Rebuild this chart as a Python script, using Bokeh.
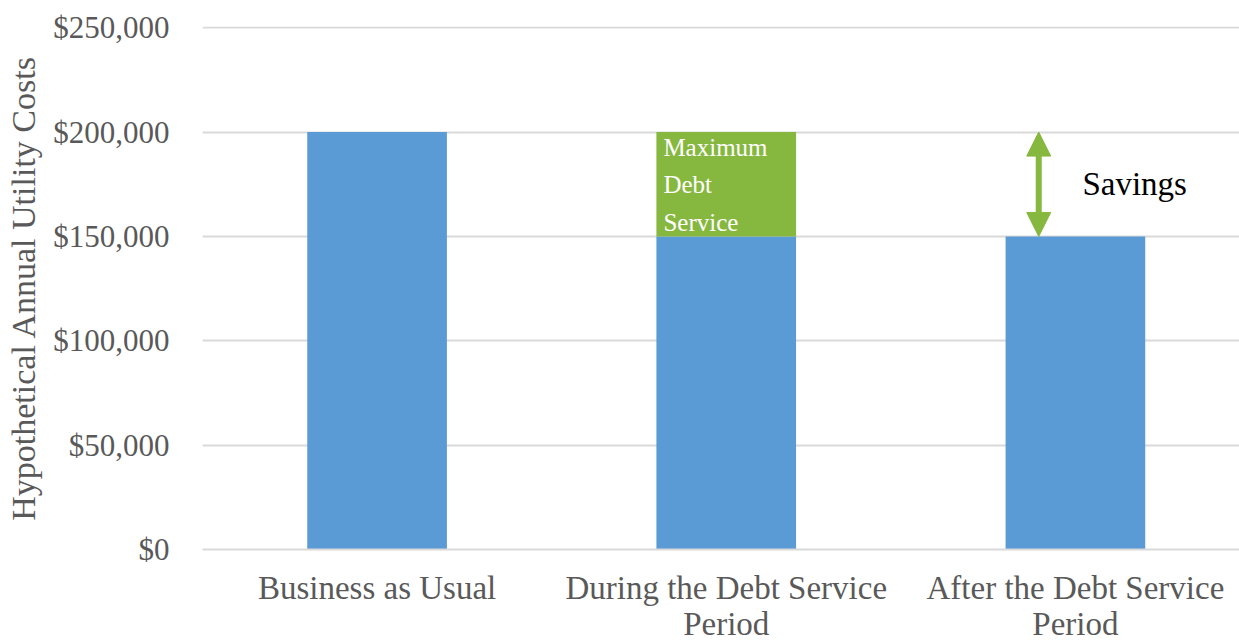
from bokeh.plotting import figure
from bokeh.models import Range1d, FixedTicker, Arrow, NormalHead, ColumnDataSource
from bokeh.embed import file_html
from bokeh.resources import INLINE
from bokeh.core.properties import value

# ---- data ----
categories = ["Business as Usual", "During the Debt Service\nPeriod", "After the Debt Service\nPeriod"]
utility_costs = [200000, 150000, 150000]
debt_service = [0, 50000, 0]
y_ticks = [0, 50000, 100000, 150000, 200000, 250000]
y_tick_labels = ["$0", "$50,000", "$100,000", "$150,000", "$200,000", "$250,000"]
bau_cost = 200000
after_cost = 150000
debt_label = "Maximum\nDebt\nService"
savings_label = "Savings"

FONT = "Liberation Serif"
BLUE = "#5B9BD5"
GREEN = "#86B83F"
GRID = "#D9D9D9"
TXT = "#595959"

xs = list(range(len(categories)))
src = ColumnDataSource(dict(
    x=xs,
    base=utility_costs,
    top=[b + d for b, d in zip(utility_costs, debt_service)],
))

p = figure(width=1239, height=644, output_backend="svg", toolbar_location=None,
           x_range=Range1d(-0.5, len(categories) - 0.53), y_range=Range1d(0, 250600),
           min_border_left=202, min_border_right=0, min_border_top=26, min_border_bottom=95)
p.outline_line_color = None
p.background_fill_color = "white"
p.border_fill_color = "white"

p.vbar(x="x", width=0.4, bottom=0, top="base", source=src, fill_color=BLUE, line_color=None)
p.vbar(x="x", width=0.4, bottom="base", top="top", source=src, fill_color=GREEN, line_color=None)

# x axis
p.xaxis.ticker = FixedTicker(ticks=xs)
p.xaxis.major_label_overrides = {i: c for i, c in zip(xs, categories)}
p.xaxis.major_tick_line_color = None
p.xaxis.minor_tick_line_color = None
p.xaxis.axis_line_color = GRID
p.xaxis.axis_line_width = 2
p.xaxis.major_label_text_font = FONT
p.xaxis.major_label_text_font_size = "33px"
p.xaxis.major_label_text_color = TXT
p.xaxis.major_label_standoff = 14
p.xaxis.major_label_text_line_height = 1.0

# y axis
p.yaxis.ticker = FixedTicker(ticks=y_ticks)
p.yaxis.major_label_overrides = {t: l for t, l in zip(y_ticks, y_tick_labels)}
p.yaxis.major_tick_line_color = None
p.yaxis.minor_tick_line_color = None
p.yaxis.axis_line_color = None
p.yaxis.major_label_text_font = FONT
p.yaxis.major_label_text_font_size = "31px"
p.yaxis.major_label_text_color = TXT
p.yaxis.major_label_standoff = 27
p.yaxis.axis_label = "Hypothetical Annual Utility Costs"
p.yaxis.axis_label_text_font = FONT
p.yaxis.axis_label_text_font_size = "34px"
p.yaxis.axis_label_text_font_style = "normal"
p.yaxis.axis_label_text_color = TXT
p.yaxis.axis_label_standoff = 8

p.xgrid.grid_line_color = None
p.ygrid.grid_line_color = GRID
p.ygrid.grid_line_width = 2
p.ygrid.ticker = FixedTicker(ticks=y_ticks)

# annotation text on the green segment
mid = 1
p.text(x=[xs[mid] - 0.18], y=[utility_costs[mid] + debt_service[mid]], text=[debt_label],
       text_font=value(FONT), text_font_size="25px", text_color="white",
       text_align="left", text_baseline="top", text_line_height=1.38, y_offset=2)

# savings arrow
last = 2
p.add_layout(Arrow(x_start=xs[last] - 0.105, y_start=after_cost, x_end=xs[last] - 0.105, y_end=bau_cost,
                   line_color=GREEN, line_width=6,
                   start=NormalHead(size=24, fill_color=GREEN, line_color=GREEN),
                   end=NormalHead(size=24, fill_color=GREEN, line_color=GREEN)))
p.text(x=[xs[last] + 0.02], y=[(after_cost + bau_cost) / 2], text=[savings_label],
       text_font=value(FONT), text_font_size="33px", text_color="black",
       text_align="left", text_baseline="middle", y_offset=0)

open("out.html", "w").write(file_html(p, INLINE))
